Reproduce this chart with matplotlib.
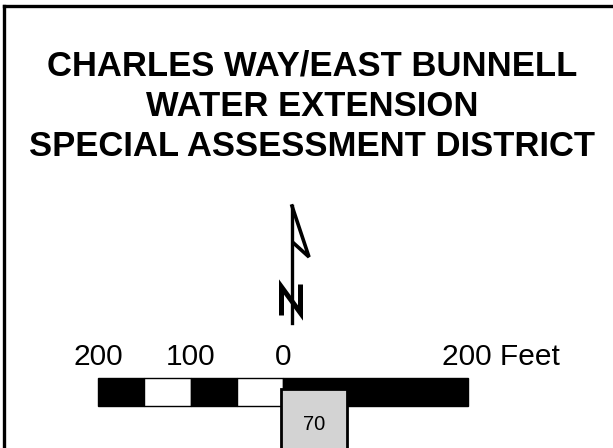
import matplotlib.pyplot as plt
from matplotlib.patches import Rectangle

plt.rcParams['font.family'] = ['Liberation Sans', 'DejaVu Sans']

title_lines = ['CHARLES WAY/EAST BUNNELL',
               'WATER EXTENSION',
               'SPECIAL ASSESSMENT DISTRICT']
# scale bar segments in feet (left of 0 negative), and fill colours
seg_starts = [-200, -150, -100, -50, 0]
seg_ends = [-150, -100, -50, 0, 200]
seg_colors = ['black', 'white', 'black', 'white', 'black']
tick_feet = [-200, -100, 0]
tick_labels = ['200', '100', '0']
end_label = '200 Feet'
parcel_label = '70'

W, H = 613, 448
fig = plt.figure(figsize=(W / 100, H / 100), dpi=100)
ax = fig.add_axes([0, 0, 1, 1])
ax.set_xlim(0, W)
ax.set_ylim(H, 0)
ax.axis('off')

# frame (only top and left edge show)
ax.plot([4, W], [6, 6], color='black', lw=2.4)
ax.plot([4, 4], [6, H], color='black', lw=2.4)

# title
for i, line in enumerate(title_lines):
    ax.text(312, 75.5 + 40.5 * i, line, ha='center', va='baseline',
            fontsize=24.9, fontweight='bold')

# north arrow
ax.plot([292, 292], [206, 323], color='black', lw=2.4)
ax.plot([292, 309, 293.5], [206, 257, 243], color='black', lw=2.6,
        solid_joinstyle='miter')
ax.plot([281.5, 281.5, 300.5, 300.5], [313, 287, 313, 287], color='black',
        lw=3.6, solid_joinstyle='miter')

# scale bar: feet -> pixels
x0, px_per_ft = 283, 0.925
bar_top, bar_h = 378, 28
for s, e, c in zip(seg_starts, seg_ends, seg_colors):
    ax.add_patch(Rectangle((x0 + s * px_per_ft, bar_top), (e - s) * px_per_ft,
                           bar_h, facecolor=c, edgecolor='black', lw=1))
for f, lab in zip(tick_feet, tick_labels):
    ax.text(x0 + f * px_per_ft, 365, lab, ha='center', va='baseline', fontsize=21.5)
ax.text(x0 + 200 * px_per_ft - 26, 365, end_label, ha='left', va='baseline',
        fontsize=21.5)

# parcel box
ax.add_patch(Rectangle((281, 389), 66, 70, facecolor='#d3d3d3',
                       edgecolor='black', lw=2, zorder=3))
ax.text(314, 425, parcel_label, ha='center', va='center', fontsize=14.5, zorder=4)

fig.savefig('out.png', dpi=100)
